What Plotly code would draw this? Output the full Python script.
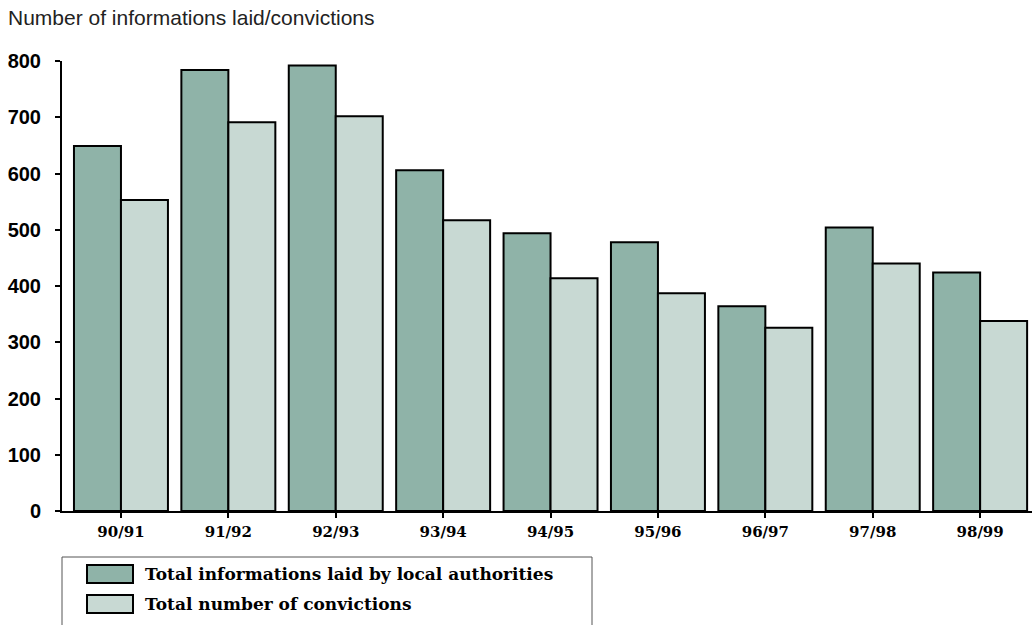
import plotly.graph_objects as go

years = ["90/91", "91/92", "92/93", "93/94", "94/95", "95/96", "96/97", "97/98", "98/99"]
informations = [649, 784, 792, 606, 494, 478, 364, 504, 424]
convictions = [553, 691, 702, 517, 414, 387, 326, 440, 338]
series_names = ["Total informations laid by local authorities", "Total number of convictions"]
dark = "#8FB3A8"
light = "#C8D9D3"

W, H = 1034, 625
L, R, T, B = 62, 1032, 61, 511

def px_x(p):
    return (p - L) / (R - L)

def px_y(p):
    return (B - p) / (B - T)

fig = go.Figure()
fig.add_trace(go.Bar(x=years, y=informations, name=series_names[0],
                     marker=dict(color=dark, line=dict(color="black", width=2))))
fig.add_trace(go.Bar(x=years, y=convictions, name=series_names[1],
                     marker=dict(color=light, line=dict(color="black", width=2))))

fig.update_layout(
    width=W, height=H,
    margin=dict(l=L, r=W - R, t=T, b=H - B),
    plot_bgcolor="white", paper_bgcolor="white",
    barmode="group", bargap=0.125, bargroupgap=0,
    showlegend=False,
    xaxis=dict(type="category", range=[-0.549, 8.483], showline=True, linecolor="black",
               linewidth=2, ticks="outside", ticklen=5, tickwidth=2, tickcolor="black",
               tickfont=dict(family="DejaVu Serif", size=15, color="black", weight="bold"),
               ticklabelstandoff=1, showgrid=False, zeroline=False),
    yaxis=dict(range=[0, 800], dtick=100, showline=True, linecolor="black", linewidth=2,
               ticks="outside", ticklen=5, tickwidth=2, tickcolor="black",
               tickfont=dict(family="Liberation Sans", size=20, color="black", weight="bold"),
               ticklabelstandoff=10, showgrid=False, zeroline=False),
)

# Title
fig.add_annotation(text="Number of informations laid/convictions", xref="paper", yref="paper",
                   x=px_x(6), y=px_y(18), xanchor="left", yanchor="middle", showarrow=False,
                   font=dict(family="Liberation Sans", size=21, color="#222222"))

# Manual legend box
fig.add_shape(type="rect", xref="paper", yref="paper", x0=px_x(62), x1=px_x(592),
              y0=px_y(640), y1=px_y(557), line=dict(color="#555555", width=1),
              fillcolor="rgba(0,0,0,0)")
for i, (col, name) in enumerate(zip([dark, light], series_names)):
    y0 = 565 + i * 30
    fig.add_shape(type="rect", xref="paper", yref="paper", x0=px_x(87), x1=px_x(133),
                  y0=px_y(y0 + 18), y1=px_y(y0), line=dict(color="black", width=2),
                  fillcolor=col)
    fig.add_annotation(text=name, xref="paper", yref="paper", x=px_x(143), y=px_y(y0 + 9),
                       xanchor="left", yanchor="middle", showarrow=False,
                       font=dict(family="DejaVu Serif", size=17, color="black", weight="bold"))

fig.write_html(
    "out.html",
    config={"displayModeBar": False},
    post_script="document.body.style.margin='0';document.documentElement.style.overflow='hidden';document.body.style.overflow='hidden';",
)
